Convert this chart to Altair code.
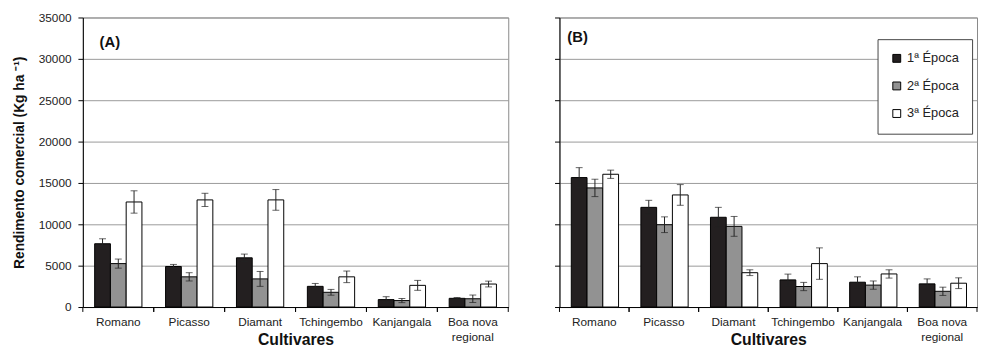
import altair as alt
import pandas as pd

cultivares = ["Romano", "Picasso", "Diamant", "Tchingembo", "Kanjangala", "Boa nova regional"]
series = ["1ª Época", "2ª Época", "3ª Época"]
colors = ["#231f20", "#929292", "#ffffff"]

# Panel A
A1 = [7650, 4900, 5950, 2500, 900, 1050]
A1_err = [600, 250, 450, 350, 350, 100]
A2 = [5250, 3650, 3400, 1780, 780, 1000]
A2_err = [550, 500, 900, 350, 250, 450]
A3 = [12700, 12950, 12950, 3650, 2620, 2780]
A3_err = [1350, 800, 1250, 700, 600, 350]

# Panel B
B1 = [15650, 12050, 10850, 3280, 3000, 2800]
B1_err = [1200, 850, 1200, 700, 650, 600]
B2 = [14400, 9950, 9750, 2480, 2650, 1900]
B2_err = [1050, 950, 1200, 500, 500, 500]
B3 = [16050, 13550, 4150, 5250, 4000, 2880]
B3_err = [500, 1250, 350, 1900, 500, 650]

y_ticks = [0, 5000, 10000, 15000, 20000, 25000, 30000, 35000]

FONT = "Liberation Sans"
H = 294


def make_df(vals, errs):
    rows = []
    for s, v, e in zip(series, vals, errs):
        for c, val, err in zip(cultivares, v, e):
            rows.append({"cult": c, "serie": s, "val": val, "lo": val - err, "hi": val + err})
    return pd.DataFrame(rows)


dfA = make_df([A1, A2, A3], [A1_err, A2_err, A3_err])
dfB = make_df([B1, B2, B3], [B1_err, B2_err, B3_err])
cat_df = pd.DataFrame({"cult": cultivares})


def panel(df, label, label_x, label_y, width, left_labels, legend):
    x_axis = alt.Axis(
        title="Cultivares", ticks=False, labelAngle=0, labelPadding=10,
        labelFontSize=12, labelColor="#222", titleFontSize=16, titleFontWeight="bold",
        titleColor="#111", titleY=38, titleBaseline="alphabetic", domainColor="#000",
        labelExpr="datum.value == 'Boa nova regional' ? ['Boa nova', 'regional'] : datum.value",
        labelLineHeight=15,
    )
    xs = alt.Scale(paddingInner=0, paddingOuter=0)
    x_enc = alt.X("cult:N", sort=cultivares, scale=xs, axis=x_axis)
    xo = alt.XOffset("serie:N", sort=series, scale=alt.Scale(paddingOuter=0.75, paddingInner=0))
    if left_labels:
        y_axis = alt.Axis(
            values=y_ticks, format="d", grid=True, gridColor="#999", tickSize=5,
            tickColor="#000", domainColor="#000", labelFontSize=12, labelColor="#222",
            labelPadding=7, title="Rendimento comercial (Kg ha ⁻¹)", titleFontSize=14,
            titleFontWeight="bold", titleColor="#111", titlePadding=12,
        )
    else:
        y_axis = alt.Axis(
            values=y_ticks, grid=True, gridColor="#999", tickSize=5, tickColor="#000",
            domainColor="#000", labels=False, title=None,
        )
    y_scale = alt.Scale(domain=[0, 35000], nice=False)

    base = alt.Chart(df)
    bars = base.mark_bar(stroke="#000", strokeWidth=1).encode(
        x=x_enc,
        xOffset=xo,
        y=alt.Y("val:Q", scale=y_scale, axis=y_axis),
        color=alt.Color("serie:N", sort=series,
                        scale=alt.Scale(domain=series, range=colors), legend=legend),
    )
    err = base.mark_rule(color="#222", strokeWidth=1).encode(
        x=x_enc, xOffset=xo, y=alt.Y("lo:Q", scale=y_scale), y2="hi:Q"
    )
    cap_lo = base.mark_tick(size=7, thickness=1, color="#222").encode(
        x=x_enc, xOffset=xo, y=alt.Y("lo:Q", scale=y_scale)
    )
    cap_hi = base.mark_tick(size=7, thickness=1, color="#222").encode(
        x=x_enc, xOffset=xo, y=alt.Y("hi:Q", scale=y_scale)
    )
    tick0 = alt.Chart(cat_df).mark_rule(color="#000").encode(
        x=alt.X("cult:N", sort=cultivares, scale=xs, axis=x_axis, bandPosition=0),
        y=alt.value(H), y2=alt.value(H + 5),
    )
    tick1 = alt.Chart(cat_df).mark_rule(color="#000").encode(
        x=alt.X("cult:N", sort=cultivares, scale=xs, axis=x_axis, bandPosition=1),
        y=alt.value(H), y2=alt.value(H + 5),
    )
    txt = alt.Chart(pd.DataFrame({"t": [label]})).mark_text(
        fontWeight="bold", fontSize=15, align="left", baseline="middle", color="#111", font=FONT
    ).encode(text="t:N", x=alt.value(label_x), y=alt.value(label_y))
    return alt.layer(bars, err, cap_lo, cap_hi, tick0, tick1, txt).properties(width=width, height=H)


legB = alt.Legend(
    title=None, orient="none", legendX=323, legendY=22, strokeColor="#444",
    fillColor="white", padding=13, rowPadding=14, symbolType="square", symbolSize=64,
    symbolStrokeColor="#000", symbolStrokeWidth=1, labelFontSize=13, labelColor="#222",
    labelOffset=4, labelFont=FONT,
)

pA = panel(dfA, "(A)", 17, 25, 432, True, None)
pB = panel(dfB, "(B)", 8, 20, 424, False, legB)

chart = alt.hconcat(pA, pB, spacing=45).resolve_scale(color="independent").properties(
    padding={"left": 4, "top": 0, "right": 0, "bottom": 0}
).configure(font=FONT).configure_view(stroke="#888", strokeWidth=1)

chart.save("out.html", embed_options={"renderer": "svg", "actions": False})
